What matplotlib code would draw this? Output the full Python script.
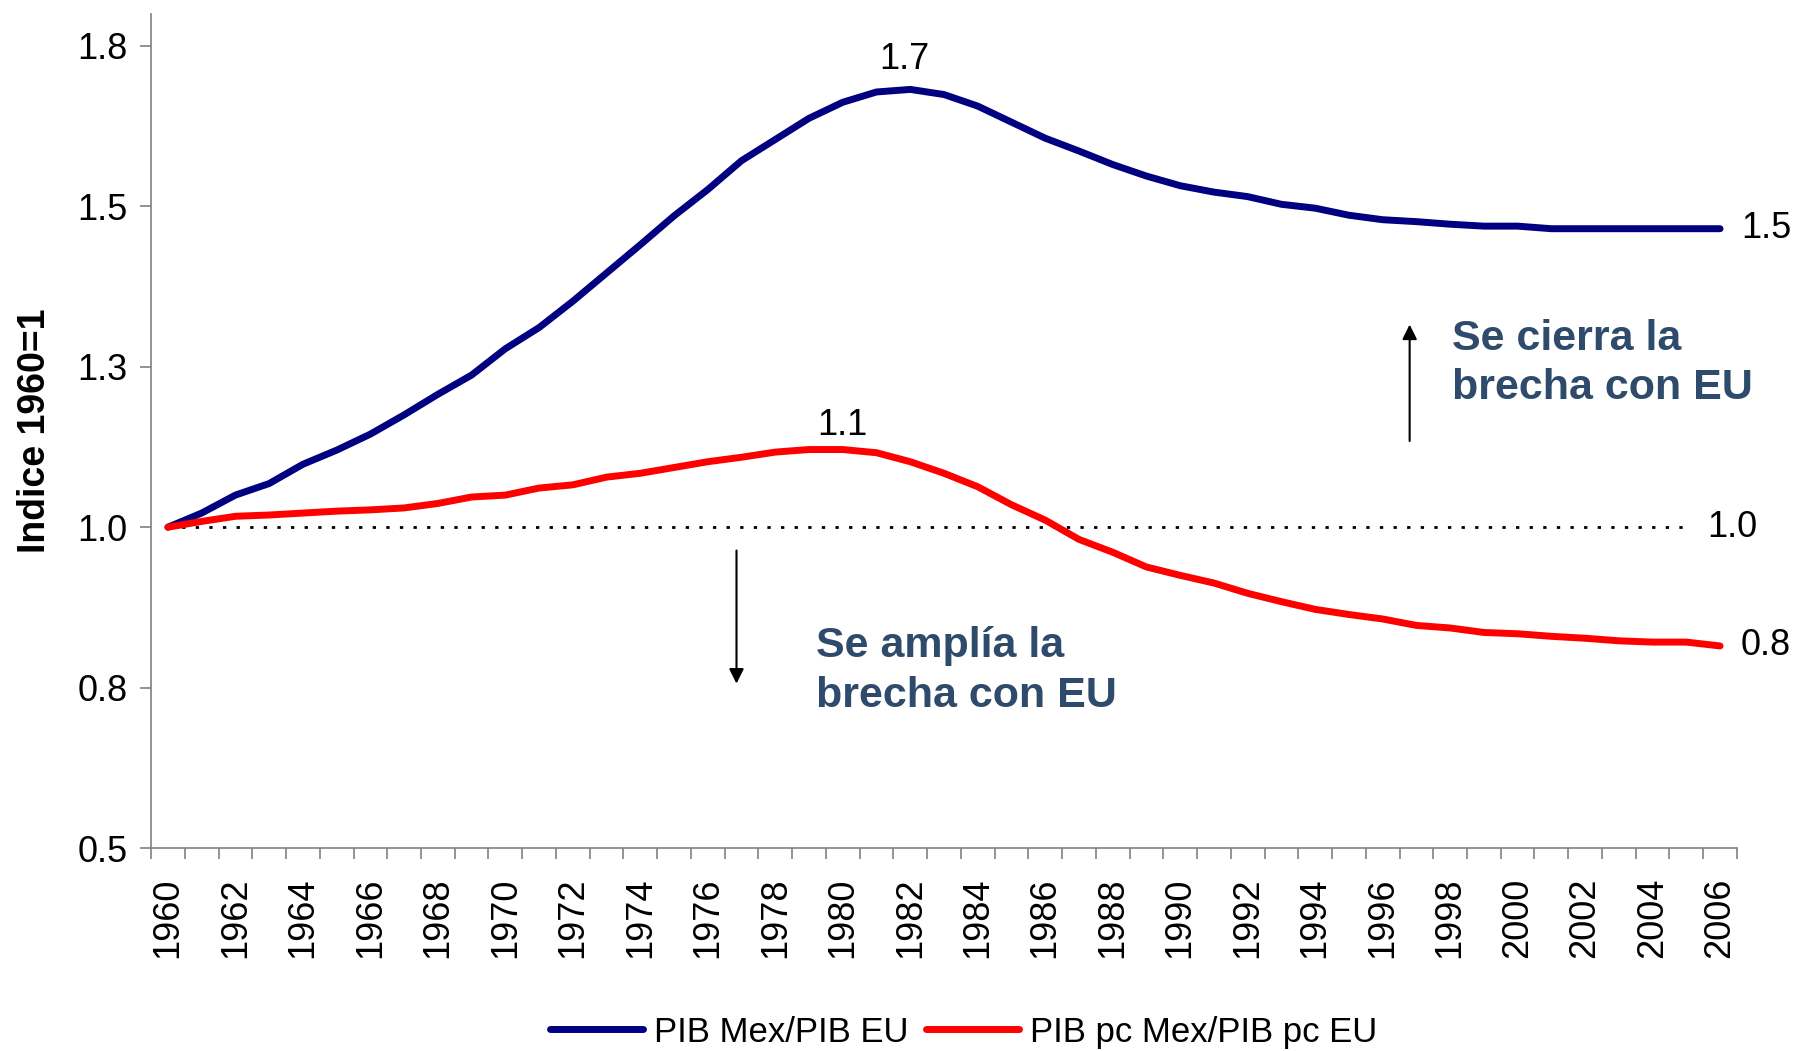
import numpy as np
from matplotlib import pyplot as plt

# Indice 1960=1 : PIB Mexico relativo a EU
years = list(range(1960, 2007))

pib_mex_eu = [1.000, 1.022, 1.050, 1.068, 1.098, 1.120, 1.145, 1.175, 1.207, 1.237,
              1.278, 1.311, 1.352, 1.396, 1.440, 1.485, 1.526, 1.571, 1.604, 1.637,
              1.662, 1.678, 1.682, 1.674, 1.656, 1.631, 1.606, 1.586, 1.565, 1.547,
              1.532, 1.522, 1.515, 1.503, 1.497, 1.486, 1.479, 1.476, 1.472, 1.469,
              1.469, 1.465, 1.465, 1.465, 1.465, 1.465, 1.465]

pibpc_mex_eu = [1.000, 1.009, 1.017, 1.019, 1.022, 1.025, 1.027, 1.030, 1.037, 1.047,
                1.050, 1.061, 1.066, 1.078, 1.084, 1.093, 1.102, 1.109, 1.117, 1.121,
                1.121, 1.116, 1.102, 1.084, 1.063, 1.035, 1.011, 0.981, 0.961, 0.938,
                0.925, 0.913, 0.897, 0.884, 0.872, 0.864, 0.857, 0.847, 0.843, 0.836,
                0.834, 0.830, 0.827, 0.823, 0.821, 0.821, 0.815]

base_line = [1.0] * 46  # 1960-2005

y_ticks = [0.5, 0.75, 1.0, 1.25, 1.5, 1.75]
y_ticklabels = ['0.5', '0.8', '1.0', '1.3', '1.5', '1.8']

plt.rcParams['font.family'] = ['Liberation Sans', 'DejaVu Sans']

fig = plt.figure(figsize=(17.94, 10.51), dpi=100)
ax = fig.add_axes([0.0842, 0.193, 0.884, 0.794])

x = np.arange(len(years))
navy = '#000080'
red = '#FF0000'
note_color = '#2F4B6C'

ax.plot(np.arange(len(base_line)), base_line, color='black', lw=2,
        linestyle=(0, (1.2, 3.7)))
ax.plot(x, pib_mex_eu, color=navy, lw=5, solid_capstyle='round',
        label='PIB Mex/PIB EU')
ax.plot(x, pibpc_mex_eu, color=red, lw=5, solid_capstyle='round',
        label='PIB pc Mex/PIB pc EU')

# axes
ax.set_xlim(-0.5, len(years) - 0.5)
ax.set_ylim(0.5, 1.8)
ax.set_yticks(y_ticks)
ax.set_yticklabels(y_ticklabels)
ax.tick_params(axis='y', labelsize=26, length=8, width=1.2, color='#808080', pad=9)

ax.set_xticks(np.arange(-0.5, len(years), 1.0))
ax.set_xticklabels([])
ax.tick_params(axis='x', which='major', length=8, width=1.2, color='#808080')
ax.set_xticks(x[::2], minor=True)
ax.set_xticklabels([str(y) for y in years[::2]], minor=True, rotation=90)
ax.tick_params(axis='x', which='minor', length=0, labelsize=26, pad=21)

for s in ['top', 'right']:
    ax.spines[s].set_visible(False)
for s in ['left', 'bottom']:
    ax.spines[s].set_color('#808080')
    ax.spines[s].set_linewidth(1.2)

ax.set_ylabel('Indice 1960=1', fontsize=27, fontweight='bold')
ax.yaxis.set_label_coords(-0.062, 0.5)

# etiquetas de datos
i_max = int(np.argmax(pib_mex_eu))
ax.annotate('%.1f' % pib_mex_eu[i_max], (x[i_max], pib_mex_eu[i_max]),
            xytext=(-4, 9), textcoords='offset points', ha='center', va='bottom', fontsize=26)
j_max = int(np.argmax(pibpc_mex_eu)) + 1
ax.annotate('%.1f' % pibpc_mex_eu[j_max], (x[j_max], pibpc_mex_eu[j_max]),
            xytext=(0, 5), textcoords='offset points', ha='center', va='bottom', fontsize=26)
ax.annotate('%.1f' % pib_mex_eu[-1], (x[-1], pib_mex_eu[-1]),
            xytext=(15, 0), textcoords='offset points', ha='left', va='center', fontsize=26)
ax.annotate('%.1f' % pibpc_mex_eu[-1], (x[-1], pibpc_mex_eu[-1]),
            xytext=(15, 0), textcoords='offset points', ha='left', va='center', fontsize=26)
ax.annotate('%.1f' % base_line[-1], (len(base_line) - 1, base_line[-1]),
            xytext=(15, 0), textcoords='offset points', ha='left', va='center', fontsize=26)

# flechas y notas
ax.annotate('', xy=(36.8, 1.32), xytext=(36.8, 1.13),
            arrowprops=dict(arrowstyle='-|>', color='black', lw=1.5, mutation_scale=22))
ax.annotate('', xy=(16.85, 0.752), xytext=(16.85, 0.968),
            arrowprops=dict(arrowstyle='-|>', color='black', lw=1.5, mutation_scale=22))
ax.text(38.05, 1.255, 'Se cierra la\nbrecha con EU', fontsize=31, fontweight='bold',
        color=note_color, ha='left', va='center', linespacing=1.32)
ax.text(19.2, 0.776, 'Se amplía la\nbrecha con EU', fontsize=31, fontweight='bold',
        color=note_color, ha='left', va='center', linespacing=1.32)

fig.legend(*ax.get_legend_handles_labels(), loc='center', bbox_to_anchor=(0.537, 0.018),
           ncol=2, frameon=False, fontsize=25, handlelength=2.7, handletextpad=0.3,
           columnspacing=0.5)

fig.savefig('out.png', dpi=100)
